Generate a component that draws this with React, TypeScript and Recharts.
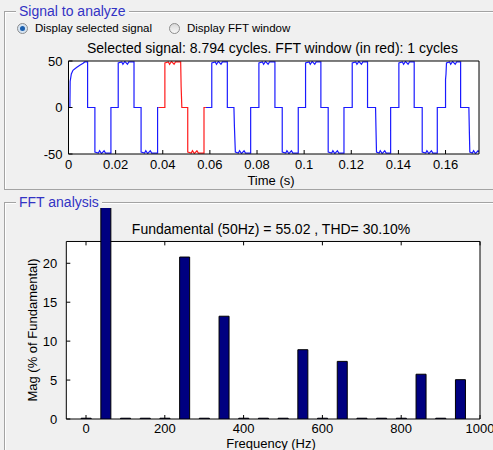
import React from "react";
import {
  Bar,
  BarChart,
  CartesianGrid,
  Line,
  LineChart,
  ReferenceArea,
  ReferenceLine,
  XAxis,
  YAxis,
} from "recharts";

// signal panel
const timeTicks = [0, 0.02, 0.04, 0.06, 0.08, 0.1, 0.12, 0.14, 0.16];
const signalTicks = [-50, 0, 50];
const timeEnd = 0.1742;
const fftWindow = [0.0383, 0.0583];

// [time (s), value] breakpoints
const signal: Array<[number, number]> = [
  [0, 0], [0.0006, 0], [0.0007, 28], [0.0012, 36], [0.0019, 40], [0.0034, 43], [0.0048, 45.5], [0.0062, 47.5], [0.0069, 49], [0.0081, 49], [0.0081, 0],
  [0.0112, 0], [0.0112, -48], [0.0127, -49], [0.0132, -46.5], [0.014, -49.5], [0.0151, -46.5], [0.0157, -49], [0.018, -49], [0.018, 0],
  [0.0211, 0], [0.0211, 48], [0.0226, 49], [0.0231, 46.5], [0.0239, 49.5], [0.025, 46.5], [0.0256, 49], [0.0278, 49], [0.0278, 0],
  [0.0308, 0], [0.0308, -48], [0.0323, -49], [0.0328, -46.5], [0.0336, -49.5], [0.0347, -46.5], [0.0353, -49], [0.0378, -49], [0.0378, 0],
  [0.0409, 0], [0.0409, 48], [0.0424, 49], [0.0429, 46.5], [0.0437, 49.5], [0.0448, 46.5], [0.0454, 49], [0.0476, 49], [0.0478, 22], [0.0481, 0],
  [0.0506, 0], [0.0506, -48], [0.0521, -49], [0.0526, -46.5], [0.0534, -49.5], [0.0545, -46.5], [0.0551, -49], [0.0575, -49], [0.0575, 0],
  [0.0608, 0], [0.0608, 48], [0.0623, 49], [0.0628, 46.5], [0.0636, 49.5], [0.0647, 46.5], [0.0653, 49], [0.0674, 49], [0.0674, 0],
  [0.0702, 0], [0.0704, -20], [0.0708, -48], [0.0721, -49], [0.0726, -46.5], [0.0734, -49.5], [0.0745, -46.5], [0.0751, -49], [0.0773, -49], [0.0773, 0],
  [0.0808, 0], [0.0808, 48], [0.0823, 49], [0.0828, 46.5], [0.0836, 49.5], [0.0847, 46.5], [0.0853, 49], [0.0876, 49], [0.0876, 0],
  [0.0907, 0], [0.0907, -48], [0.0922, -49], [0.0927, -46.5], [0.0935, -49.5], [0.0946, -46.5], [0.0952, -49], [0.0975, -49], [0.0975, 0],
  [0.1006, 0], [0.1006, 48], [0.1021, 49], [0.1026, 46.5], [0.1034, 49.5], [0.1045, 46.5], [0.1051, 49], [0.1071, 49], [0.1071, 0],
  [0.1102, 0], [0.1102, -48], [0.1117, -49], [0.1122, -46.5], [0.113, -49.5], [0.1141, -46.5], [0.1147, -49], [0.1169, -49], [0.1169, 0],
  [0.1204, 0], [0.1204, 48], [0.1219, 49], [0.1224, 46.5], [0.1232, 49.5], [0.1243, 46.5], [0.1249, 49], [0.1269, 49], [0.1269, 0],
  [0.1303, 0], [0.1305, -25], [0.1307, -48], [0.1318, -49], [0.1323, -46.5], [0.1331, -49.5], [0.1342, -46.5], [0.1348, -49], [0.1367, -49], [0.1367, 0],
  [0.1402, 0], [0.1402, 48], [0.1417, 49], [0.1422, 46.5], [0.143, 49.5], [0.1441, 46.5], [0.1447, 49], [0.1467, 49], [0.1467, 0],
  [0.1501, 0], [0.1501, -48], [0.1516, -49], [0.1521, -46.5], [0.1529, -49.5], [0.154, -46.5], [0.1546, -49], [0.1565, -49], [0.1565, 0],
  [0.16, 0], [0.16, 30], [0.1602, 36], [0.1604, 48], [0.1617, 49], [0.1622, 46.5], [0.163, 49.5], [0.1641, 46.5], [0.1647, 49], [0.1664, 49], [0.1664, 0],
  [0.1699, 0], [0.1701, -25], [0.1703, -48], [0.1714, -49], [0.1719, -46.5], [0.1727, -49.5], [0.1738, -46.5], [0.1742, -48],
];

// FFT panel
const harmonicFreqs = [0, 50, 100, 150, 200, 250, 300, 350, 400, 450, 500, 550, 600, 650, 700, 750, 800, 850, 900, 950];
const harmonicMags = [0.1, 100, 0.1, 0.1, 0.1, 20.8, 0.1, 13.2, 0.1, 0.1, 0.1, 8.9, 0.1, 7.4, 0.1, 0.1, 0.1, 5.75, 0.1, 5.05];
const freqTicks = [0, 200, 400, 600, 800, 1000];
const magTicks = [0, 5, 10, 15, 20];
const magFrameTop = 22.8;
const magAxisTop = 27.1;

const font = "'Liberation Sans', Arial, Helvetica, sans-serif";
const axisText = { fill: "#000", fontSize: 13, fontFamily: font };

const signalRows = signal.map(([t, v]) => ({ t, v }));
const [winStart, winEnd] = fftWindow;
const beforeRows = [...signalRows.filter((r) => r.t < winStart), { t: winStart, v: 0 }];
const windowRows = [{ t: winStart, v: 0 }, ...signalRows.filter((r) => r.t > winStart && r.t < winEnd), { t: winEnd, v: 0 }];
const afterRows = [{ t: winEnd, v: 0 }, ...signalRows.filter((r) => r.t > winEnd)];
const harmonics = harmonicFreqs.map((freq, i) => ({ freq, mag: harmonicMags[i] }));

function Caption({
  x,
  y,
  size = 13,
  color = "#000",
  center = true,
  rotate = 0,
  children,
}: {
  x: number;
  y: number;
  size?: number;
  color?: string;
  center?: boolean;
  rotate?: number;
  children: React.ReactNode;
}) {
  return (
    <div
      style={{
        position: "absolute",
        left: x,
        top: y,
        fontSize: size,
        color,
        lineHeight: 1,
        whiteSpace: "nowrap",
        transform: `translate(${center ? "-50%" : "0"}, -50%) rotate(${rotate}deg)`,
      }}
    >
      {children}
    </div>
  );
}

function Panel({ top, height, title }: { top: number; height: number; title: string }) {
  return (
    <>
      <div
        style={{
          position: "absolute",
          left: 4,
          top,
          width: 520,
          height,
          boxSizing: "border-box",
          border: "1px solid #a3a3a3",
          boxShadow: "inset 1px 1px 0 #fff",
        }}
      />
      <div
        style={{
          position: "absolute",
          left: 16,
          top: top - 8,
          padding: "0 3px",
          background: "#f0f0f0",
          color: "#3333c4",
          fontSize: 14,
          lineHeight: "16px",
        }}
      >
        {title}
      </div>
    </>
  );
}

function Radio({ x, checked }: { x: number; checked: boolean }) {
  return (
    <div
      style={{
        position: "absolute",
        left: x,
        top: 23,
        width: 11,
        height: 11,
        borderRadius: "50%",
        boxSizing: "border-box",
        border: "1px solid #8d8d8d",
        background: checked ? "#d6e4f2" : "linear-gradient(#d9d9d9, #f7f7f7)",
      }}
    >
      {checked ? (
        <div
          style={{
            position: "absolute",
            left: 2,
            top: 2,
            width: 5,
            height: 5,
            borderRadius: "50%",
            background: "#1b5fae",
          }}
        />
      ) : null}
    </div>
  );
}

export default function App() {
  return (
    <div
      style={{
        position: "absolute",
        left: 0,
        top: 0,
        width: 493,
        height: 450,
        overflow: "hidden",
        background: "#f0f0f0",
        fontFamily: font,
      }}
    >
      <Panel top={11} height={179} title="Signal to analyze" />
      <Panel top={202} height={300} title="FFT analysis" />

      <Radio x={17} checked />
      <Caption x={35} y={29} size={11.5} center={false}>
        Display selected signal
      </Caption>
      <Radio x={169} checked={false} />
      <Caption x={187} y={29} size={11.5} center={false}>
        Display FFT window
      </Caption>
      <Caption x={87} y={48} size={14} center={false}>
        Selected signal: 8.794 cycles. FFT window (in red): 1 cycles
      </Caption>

      <div style={{ position: "absolute", left: 0, top: 0 }}>
        <LineChart width={493} height={195} margin={{ top: 60, right: 13, bottom: 11, left: 23.5 }}>
          <CartesianGrid fill="#fff" horizontal={false} vertical={false} />
          <XAxis
            dataKey="t"
            type="number"
            domain={[0, timeEnd]}
            allowDataOverflow
            ticks={timeTicks}
            interval={0}
            height={30}
            stroke="#000"
            tickSize={-4}
            tickMargin={10}
            tick={axisText}
          />
          <XAxis
            xAxisId="top"
            orientation="top"
            type="number"
            domain={[0, timeEnd]}
            allowDataOverflow
            ticks={timeTicks}
            interval={0}
            height={1}
            stroke="#000"
            tickSize={-4}
            tick={false}
          />
          <YAxis
            type="number"
            domain={[-50, 50]}
            allowDataOverflow
            ticks={signalTicks}
            interval={0}
            width={45}
            stroke="#000"
            tickSize={-4}
            tickMargin={10}
            tick={axisText}
          />
          <YAxis
            yAxisId="right"
            orientation="right"
            type="number"
            domain={[-50, 50]}
            allowDataOverflow
            ticks={signalTicks}
            interval={0}
            width={1}
            stroke="#000"
            tickSize={-4}
            tick={false}
          />
          <Line
            data={beforeRows}
            dataKey="v"
            type="linear"
            stroke="#1a1aff"
            strokeWidth={1.2}
            dot={false}
            isAnimationActive={false}
          />
          <Line
            data={windowRows}
            dataKey="v"
            type="linear"
            stroke="#ff1a1a"
            strokeWidth={1.2}
            dot={false}
            isAnimationActive={false}
          />
          <Line
            data={afterRows}
            dataKey="v"
            type="linear"
            stroke="#1a1aff"
            strokeWidth={1.2}
            dot={false}
            isAnimationActive={false}
          />
        </LineChart>
      </div>
      <Caption x={271} y={180}>Time (s)</Caption>

      <Caption x={271} y={229} size={14}>
        Fundamental (50Hz) = 55.02 , THD= 30.10%
      </Caption>
      <div style={{ position: "absolute", left: 0, top: 195 }}>
        <BarChart width={493} height={255} data={harmonics} margin={{ top: 13, right: 12, bottom: 1, left: 16.3 }}>
          <ReferenceArea
            x1={-50}
            x2={1000}
            y1={0}
            y2={magFrameTop}
            fill="#fff"
            fillOpacity={1}
            stroke="#000"
            strokeWidth={1}
          />
          {freqTicks.map((f) => (
            <ReferenceLine
              key={f}
              segment={[
                { x: f, y: magFrameTop },
                { x: f, y: magFrameTop - 0.5 },
              ]}
              stroke="#000"
            />
          ))}
          <XAxis
            dataKey="freq"
            type="number"
            domain={[-50, 1000]}
            allowDataOverflow
            ticks={freqTicks}
            interval={0}
            height={30}
            stroke="#000"
            axisLine={false}
            tickSize={-4}
            tickMargin={9}
            tick={axisText}
          />
          <YAxis
            type="number"
            domain={[0, magAxisTop]}
            allowDataOverflow
            ticks={magTicks}
            interval={0}
            width={50}
            stroke="#000"
            axisLine={false}
            tickSize={-4}
            tickMargin={13}
            tick={axisText}
          />
          <YAxis
            yAxisId="right"
            orientation="right"
            type="number"
            domain={[0, magAxisTop]}
            allowDataOverflow
            ticks={magTicks}
            interval={0}
            width={1}
            stroke="#000"
            axisLine={false}
            tickSize={-4}
            tick={false}
          />
          <Bar
            dataKey="mag"
            barSize={10}
            fill="#000080"
            stroke="#000"
            strokeWidth={1}
            isAnimationActive={false}
          />
        </BarChart>
      </div>
      <Caption x={32} y={330} rotate={-90}>
        Mag (% of Fundamental)
      </Caption>
      <Caption x={271} y={443}>Frequency (Hz)</Caption>
    </div>
  );
}
